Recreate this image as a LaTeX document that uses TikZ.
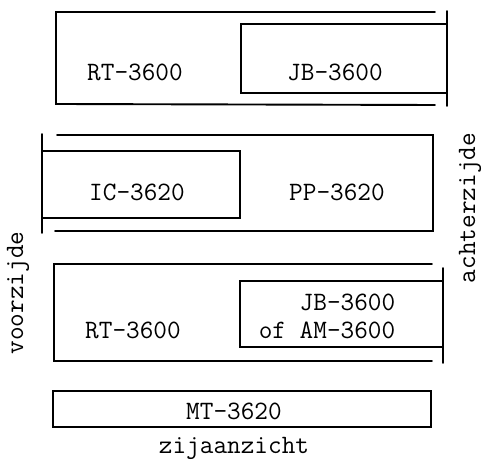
\documentclass[tikz,border=0pt]{standalone}
\usepackage{tikz}

\begin{document}
\begin{tikzpicture}[x=1pt, y=-1pt, line width=1.9pt, line cap=round, line join=miter,
    label/.style={font=\ttfamily\fontsize{26.5}{28}\selectfont, inner sep=0pt},
    side/.style={label, rotate=90}]
    \useasboundingbox (0,0) rectangle (483,462);

    % top unit: RT-3600 with JB-3600
    \coordinate (TopNW) at (56,12);
    \coordinate (TopSW) at (56,104);
    \draw (435,12) -- (TopNW) -- (TopSW) -- (435,105);
    \draw (447,11) -- (447,106);
    \draw (447,24) -- (241,24) -- (241,93) -- (447,93);
    \node[label] (rtTop) at (135,72) {RT-3600};
    \node[label] (jbTop) at (335,72) {JB-3600};

    % middle unit: IC-3620 in PP-3620
    \draw (42,134) -- (42,233);
    \draw (57,135) -- (433,135) -- (433,231) -- (55,231);
    \draw (42,151) -- (240,151) -- (240,218) -- (42,218);
    \node[label] (icMid) at (137,192) {IC-3620};
    \node[label] (ppMid) at (337,192) {PP-3620};

    % lower unit: RT-3600 with JB-3600 or AM-3600
    \draw (432,264) -- (54,264) -- (54,361) -- (432,361);
    \draw (443,268) -- (443,363);
    \draw (443,281) -- (240,281) -- (240,347) -- (443,347);
    \node[label] (rtLow) at (133,330) {RT-3600};
    \node[label, align=left] (jbLow) at (327,316) {\hphantom{of }JB-3600\\of AM-3600};

    % MT-3620
    \draw (53,391) rectangle (431,427);
    \node[label] (mt) at (234,411) {MT-3620};
    \node[label, anchor=base] (zij) at (234,454) {zijaanzicht};

    \node[side] (voor) at (18,293) {voorzijde};
    \node[side] (achter) at (470,208) {achterzijde};
\end{tikzpicture}
\end{document}
